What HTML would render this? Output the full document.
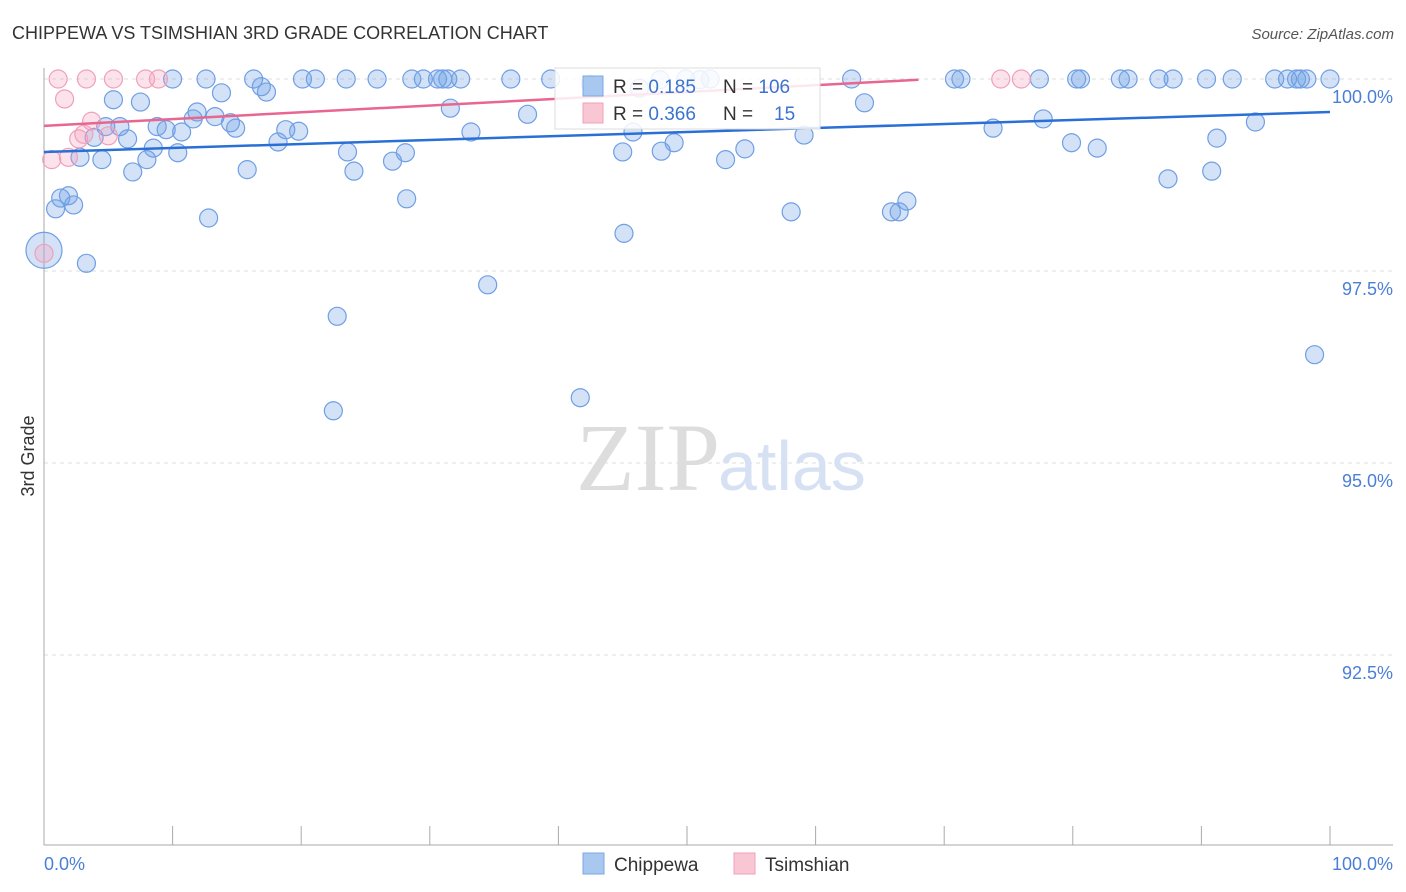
<!DOCTYPE html>
<html><head><meta charset="utf-8">
<style>
body{margin:0;background:#fff;font-family:"Liberation Sans",sans-serif;}
svg{display:block}
</style></head>
<body>
<svg id="chart" width="1406" height="892">
<text x="12" y="39" font-size="18" fill="#333">CHIPPEWA VS TSIMSHIAN 3RD GRADE CORRELATION CHART</text>
<text x="1394" y="39" font-size="15" fill="#555" font-style="italic" text-anchor="end">Source: ZipAtlas.com</text>
<g id="grid"></g>
<text x="720" y="490" font-size="96" fill="#ddd" text-anchor="end" font-family="Liberation Serif">ZIP</text>
<text x="718" y="490" font-size="70" fill="#d6e2f3">atlas</text>
<g id="pts"></g>
<g id="lines"></g>
<text transform="translate(34,456) rotate(-90)" font-size="18" fill="#333" text-anchor="middle">3rd Grade</text>
<text x="44" y="870" font-size="18" fill="#4a7fd6">0.0%</text>
<text x="1393" y="870" font-size="18" fill="#4a7fd6" text-anchor="end">100.0%</text>
<g>
<rect x="555" y="68" width="265" height="61" fill="#fff" fill-opacity="0.85" stroke="#ddd"/>
<rect x="583" y="76" width="20" height="20" fill="#a9c8f0" stroke="#7ba7e6"/>
<rect x="583" y="103" width="20" height="20" fill="#f9c6d4" stroke="#f0a0b8"/>
<text x="613" y="93" font-size="19" fill="#333">R = <tspan fill="#3b73d0">0.185</tspan><tspan x="723">N = </tspan><tspan fill="#3b73d0">106</tspan></text>
<text x="613" y="120" font-size="19" fill="#333">R = <tspan fill="#3b73d0">0.366</tspan><tspan x="723">N = </tspan><tspan x="774" fill="#3b73d0">15</tspan></text>
</g>
<g>
<rect x="583" y="853" width="21" height="21" fill="#a9c8f0" stroke="#7ba7e6"/>
<text x="614" y="871" font-size="19" fill="#333">Chippewa</text>
<rect x="734" y="853" width="21" height="21" fill="#f9c6d4" stroke="#f0a0b8"/>
<text x="765" y="871" font-size="19" fill="#333">Tsimshian</text>
</g>
</svg>
<script>
const yTicks=[100,97.5,95,92.5];
const yTickLabels=["100.0%","97.5%","95.0%","92.5%"];
const xTicks=[0,10,20,30,40,50,60,70,80,90,100];
const blueX=[0.9,1.3,1.9,2.3,3.3,2.8,3.9,4.5,4.8,5.4,5.9,6.5,6.9,7.5,8.0,8.5,8.8,9.5,10.0,10.4,10.7,11.6,11.9,12.6,12.8,13.3,13.8,14.5,14.9,15.8,16.3,16.9,17.3,18.2,18.8,19.8,20.1,21.1,22.5,22.8,23.5,23.6,24.1,25.9,27.1,28.1,28.2,28.6,29.5,30.6,31.0,31.4,31.6,32.4,33.2,34.5,36.3,37.6,39.4,41.7,45.0,45.1,45.8,48.0,49.0,49.9,51.8,53.0,54.5,58.1,59.1,62.8,63.8,65.9,66.5,67.1,70.8,71.3,73.8,77.4,77.7,79.9,80.3,80.6,81.9,83.7,84.3,86.7,87.4,87.8,90.4,90.8,91.2,92.4,94.2,95.7,96.7,97.4,97.7,98.2,98.8,100,42.5,46.3,47.9,51.0];
const blueY=[98.31,98.45,98.48,98.36,97.60,98.98,99.24,98.95,99.38,99.73,99.38,99.22,98.79,99.70,98.95,99.10,99.38,99.34,100,99.04,99.31,99.48,99.57,100,98.19,99.51,99.82,99.43,99.36,98.82,100,99.90,99.83,99.18,99.34,99.32,100,100,95.68,96.91,100,99.05,98.80,100,98.93,99.04,98.44,100,100,100,100,100,99.62,100,99.31,97.32,100,99.54,100,95.85,99.05,97.99,99.31,99.06,99.17,100,100,98.95,99.09,98.27,99.27,100,99.69,98.27,98.27,98.41,100,100,99.36,100,99.48,99.17,100,100,99.10,100,100,100,98.70,100,100,98.80,99.23,100,99.44,100,100,100,100,100,96.41,100,99.93,99.88,99.99,99.99];
const bigBlue=[0,97.77];
const pinkX=[1.1,3.3,5.4,7.9,8.9,1.6,0.6,1.9,2.7,3.1,3.7,5.0,0,74.4,76.0];
const pinkY=[100,100,100,100,100,99.74,98.95,98.98,99.22,99.28,99.45,99.26,97.73,100,100];
const blueTrend=[[0,99.05],[100,99.57]];
const pinkTrend=[[0,99.39],[68,99.99]];
const NS="http://www.w3.org/2000/svg";
const sx=v=>44+v*12.86, sy=v=>79+(100-v)*76.8;
function mk(tag,attrs,parent){const e=document.createElementNS(NS,tag);for(const k in attrs)e.setAttribute(k,attrs[k]);parent.appendChild(e);return e;}
const grid=document.getElementById('grid');
yTicks.forEach((t,i)=>{
 const l=mk('line',{x1:44,x2:1393,y1:sy(t),y2:sy(t),stroke:'#ddd','stroke-dasharray':'4,4'},grid);
 
 
 const tx=mk('text',{x:1393,y:sy(t)+24,'font-size':18,fill:'#4a7fd6','text-anchor':'end'},grid);
 tx.textContent=yTickLabels[i];
 
 
});
const ax=mk('line',{x1:44,x2:1393,y1:845,y2:845,stroke:'#aaa'},grid);


const ay=mk('line',{x1:44,x2:44,y1:68,y2:845,stroke:'#aaa'},grid);


xTicks.forEach(t=>{
 const l=mk('line',{x1:sx(t),x2:sx(t),y1:826,y2:845,stroke:'#aaa'},grid);
 
 
});
const pts=document.getElementById('pts');
blueX.forEach((x,i)=>{
 const c=mk('circle',{cx:sx(x),cy:sy(blueY[i]),r:9,fill:'rgba(110,160,230,0.3)',stroke:'#6f9fe4','stroke-width':1.2},pts);
 
 
});
const bb=mk('circle',{cx:sx(bigBlue[0]),cy:sy(bigBlue[1]),r:18,fill:'rgba(110,160,230,0.3)',stroke:'#6f9fe4','stroke-width':1.2},pts);


pinkX.forEach((x,i)=>{
 const c=mk('circle',{cx:sx(x),cy:sy(pinkY[i]),r:9,fill:'rgba(245,160,190,0.3)',stroke:'#f0a0b8','stroke-width':1.2},pts);
 
 
});
const lines=document.getElementById('lines');
const bl=mk('line',{x1:sx(blueTrend[0][0]),y1:sy(blueTrend[0][1]),x2:sx(blueTrend[1][0]),y2:sy(blueTrend[1][1]),stroke:'#2a6fd6','stroke-width':2.5},lines);


const pl=mk('line',{x1:sx(pinkTrend[0][0]),y1:sy(pinkTrend[0][1]),x2:sx(pinkTrend[1][0]),y2:sy(pinkTrend[1][1]),stroke:'#e8668f','stroke-width':2.5},lines);


</script>
</body></html>
